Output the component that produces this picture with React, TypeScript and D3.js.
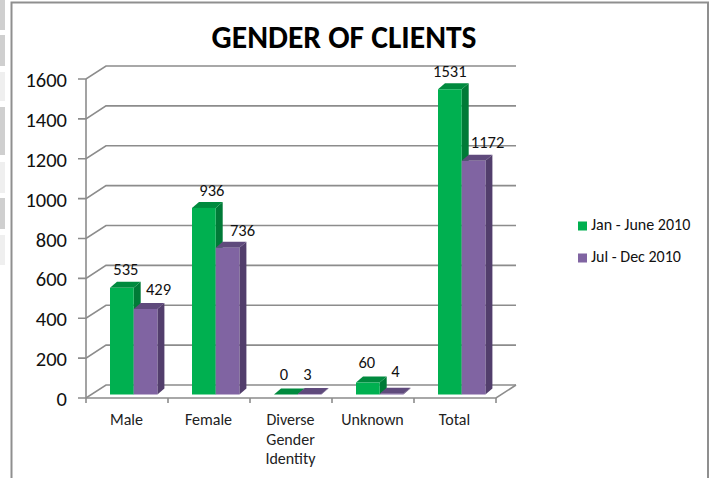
import React from "react";
import * as d3 from "d3";

const categories = ["Male", "Female", "Diverse|Gender|Identity", "Unknown", "Total"];
const seriesNames = ["Jan - June 2010", "Jul - Dec 2010"];
const janJune = [535, 936, 0, 60, 1531];
const julDec = [429, 736, 3, 4, 1172];
const yTicks = [0, 200, 400, 600, 800, 1000, 1200, 1400, 1600];
const stripBands = [[0, 30, "#cfcfcf"], [35, 66, "#cfcfcf"], [72, 101, "#efefef"], [107, 155, "#cfcfcf"], [162, 193, "#efefef"], [198, 229, "#cfcfcf"], [235, 265, "#efefef"]] as const;

const FONT = "Carlito, Calibri, 'Open Sans', 'Noto Sans', sans-serif";
const y = d3.scaleLinear().domain([0, 1600]).range([398, 79]);
const x = d3.scaleBand<number>().domain(d3.range(categories.length)).range([86, 496]);
const DX = 20, DY = -13;       // wall depth
const BDX = 7, BDY = -6;       // bar depth
const LIFT = -3.5;             // bar base above axis
const GRID = "#8c8c8c";
const colors = [
  { front: "#00b050", top: "#008a3e", side: "#007a37" },
  { front: "#8064a2", top: "#5f4a7c", side: "#523e6c" },
];

function Bar({ x0, w, v, c }: { x0: number; w: number; v: number; c: typeof colors[number] }) {
  const base = y(0) + LIFT;
  const t = y(v) + LIFT;
  return (
    <g>
      <polygon fill={c.side} points={`${x0 + w},${t} ${x0 + w + BDX},${t + BDY} ${x0 + w + BDX},${base + BDY} ${x0 + w},${base}`} />
      <polygon fill={c.top} points={`${x0},${t} ${x0 + BDX},${t + BDY} ${x0 + w + BDX},${t + BDY} ${x0 + w},${t}`} />
      <rect x={x0} y={t} width={w} height={base - t} fill={c.front} />
    </g>
  );
}

const labelOffsets: Record<string, [number, number]> = {
  "0-0": [4, -7], "0-1": [8, -6], "0-2": [-2, -9], "0-3": [-1, -9], "0-4": [0, -6],
  "1-0": [13, -8], "1-1": [15, -6], "1-2": [-2, -8], "1-3": [4, -11], "1-4": [14, -7],
};

export default function App() {
  const bw = 23.7;
  const pad = 24;
  return (
    <svg width={712} height={478} style={{ position: "absolute", left: 0, top: 0, background: "#fff" }} fontFamily={FONT}>
      {stripBands.map(([a, b, f], i) => (
        <rect key={i} x={0} y={a} width={5} height={b - a} fill={f} />
      ))}
      <path d="M11.5,478 V2.5 H708 V478" fill="none" stroke="#8f8f8f" strokeWidth={2} />
      <text x={344} y={48} textAnchor="middle" fontSize={31.6} fontWeight={700} fill="#000">GENDER OF CLIENTS</text>

      {/* walls + gridlines */}
      <g stroke={GRID} strokeWidth={1.6} fill="none">
        {yTicks.map((t) => (
          <path key={t} d={`M78,${y(t)} H86 L${86 + DX},${y(t) + DY} H${496 + DX}`} />
        ))}
        <path d={`M86,${y(1600)} V${y(0)}`} />
        <path d={`M86,${y(0)} H496 L${496 + DX},${y(0) + DY}`} />
        {d3.range(categories.length + 1).map((i) => {
          const px = 86 + i * x.bandwidth();
          return <path key={i} d={`M${px},${y(0)} v5`} />;
        })}
      </g>
      {yTicks.map((t) => (
        <text key={t} x={67} y={y(t) + 8} textAnchor="end" fontSize={20.5} fill="#111">{t}</text>
      ))}

      {/* bars */}
      {categories.map((_, i) => {
        const x0 = x(i)! + pad;
        return (
          <g key={i}>
            <Bar x0={x0} w={bw} v={janJune[i]} c={colors[0]} />
            <Bar x0={x0 + bw} w={bw} v={julDec[i]} c={colors[1]} />
          </g>
        );
      })}

      {/* value labels */}
      {categories.map((_, i) => {
        const x0 = x(i)! + pad;
        return [janJune, julDec].map((s, k) => {
          const [ox, oy] = labelOffsets[`${k}-${i}`];
          return (
            <text key={k} x={x0 + bw * k + bw / 2 + ox} y={y(s[i]) + LIFT + BDY + oy} textAnchor="middle" fontSize={16.5} fill="#111">{s[i]}</text>
          );
        });
      })}

      {/* category labels */}
      {categories.map((c, i) => (
        <text key={c} x={x(i)! + x.bandwidth() / 2 - 0.5} y={425} textAnchor="middle" fontSize={16} fill="#222">
          {c.split("|").map((l, j) => (
            <tspan key={j} x={x(i)! + x.bandwidth() / 2 - 0.5} dy={j === 0 ? 0 : 19.5}>{l}</tspan>
          ))}
        </text>
      ))}

      {/* legend */}
      {seriesNames.map((n, i) => (
        <g key={n}>
          <rect x={578} y={221.5 + i * 32} width={9} height={9} fill={colors[i].front} />
          <text x={591} y={230 + i * 32} fontSize={16} fill="#111">{n}</text>
        </g>
      ))}
    </svg>
  );
}
